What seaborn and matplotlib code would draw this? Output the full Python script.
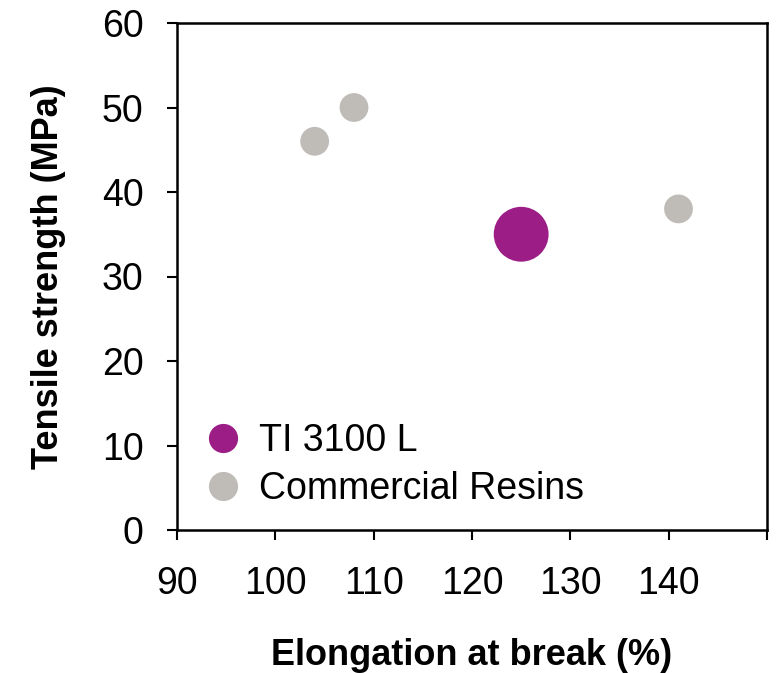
import matplotlib
matplotlib.use("Agg")
import matplotlib.pyplot as plt
from matplotlib.lines import Line2D
import seaborn as sns
import pandas as pd

groups = ["TI 3100 L", "Commercial Resins", "Commercial Resins", "Commercial Resins"]
elongation = [125, 104, 108, 141]
tensile = [35, 46, 50, 38]
x_ticks = [90, 100, 110, 120, 130, 140, 150]
x_tick_labels = ["90", "100", "110", "120", "130", "140", ""]
y_ticks = [0, 10, 20, 30, 40, 50, 60]

colors = {"TI 3100 L": "#9B1D85", "Commercial Resins": "#BFBCB8"}
sizes = {"TI 3100 L": 1560, "Commercial Resins": 430}

df = pd.DataFrame({"Elongation": elongation, "Tensile": tensile, "Group": groups})

sns.set_style("ticks")
plt.rcParams['font.family'] = ['Liberation Sans', 'DejaVu Sans']
plt.rcParams['text.color'] = 'black'
plt.rcParams['axes.labelcolor'] = 'black'

fig = plt.figure(figsize=(7.77, 6.73), dpi=100)
ax = fig.add_axes([177/777, 1-530/673, (767-177)/777, (530-23)/673])

sns.scatterplot(data=df, x="Elongation", y="Tensile", hue="Group", palette=colors,
                size="Group", sizes=sizes, linewidth=0, legend=False, ax=ax, zorder=3)

ax.set_xlim(90, 150)
ax.set_ylim(0, 60)
ax.set_xticks(x_ticks)
ax.set_xticklabels(x_tick_labels)
ax.set_yticks(y_ticks)
ax.tick_params(axis='both', labelsize=27, length=7, width=1.5, direction='out',
               colors='black', labelcolor='black')
ax.tick_params(axis='y', pad=17)
ax.tick_params(axis='x', pad=19)
for s in ax.spines.values():
    s.set_linewidth(1.8)
    s.set_color('black')
    s.set_visible(True)

ax.set_xlabel("Elongation at break (%)", fontsize=26, fontweight='bold', labelpad=26, color='black')
ax.set_ylabel("Tensile strength (MPa)", fontsize=26, fontweight='bold', labelpad=26, color='black')

handles = [Line2D([], [], marker='o', linestyle='', markersize=21, markeredgewidth=0,
                  markerfacecolor=colors[g]) for g in ["TI 3100 L", "Commercial Resins"]]
ax.legend(handles, ["TI 3100 L", "Commercial Resins"], loc='lower left',
          bbox_to_anchor=(27/590, 0.045), frameon=False, fontsize=27, labelcolor='black',
          handletextpad=0.47, labelspacing=0.33, borderaxespad=0.0, borderpad=0.0,
          handlelength=1.0)

fig.savefig("out.png", dpi=100)
